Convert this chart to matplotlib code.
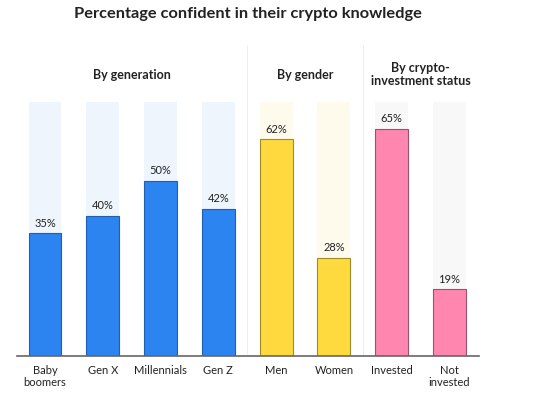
import matplotlib
matplotlib.use("Agg")
import matplotlib.pyplot as plt

categories = ["Baby\nboomers", "Gen X", "Millennials", "Gen Z", "Men", "Women", "Invested", "Not\ninvested"]
values = [35, 40, 50, 42, 62, 28, 65, 19]
background = [72.5] * 8
bar_colors = ["#2C84F0"] * 4 + ["#FFDA3E"] * 2 + ["#FF86AE"] * 2
edge_colors = ["#1F5FAE"] * 4 + ["#A08A2A"] * 2 + ["#9E5068"] * 2
bg_colors = ["#EFF5FD"] * 4 + ["#FEFBED"] * 2 + ["#F8F8F9"] * 2
groups = ["By generation", "By gender", "By crypto-\ninvestment status"]
group_centers = [1.5, 4.5, 6.5]
separators = [3.5, 5.5]
title = "Percentage confident in their crypto knowledge"

plt.rcParams['font.family'] = ['Lato', 'DejaVu Sans']

W, H = 539, 399
fig = plt.figure(figsize=(W / 100, H / 100), dpi=100)
base_px = 355.5
px_per = 3.49
ytop = 80
ax = fig.add_axes([17 / W, (H - base_px) / H, 462 / W, ytop * px_per / H])
x = list(range(len(categories)))
ax.bar(x, background, width=0.57, color=bg_colors, zorder=1)
ax.bar(x, values, width=0.57, color=bar_colors, edgecolor=edge_colors, linewidth=0.8, zorder=2)
for xi, v in zip(x, values):
    ax.text(xi, v + 1.3, f"{v}%", ha="center", va="bottom", fontsize=8, color="#222222")
for s in separators:
    ax.plot([s, s], [0, 89], color="#EFEFEF", linewidth=0.8, zorder=0, clip_on=False)
for g, c in zip(groups, group_centers):
    ax.text(c, 80.5, g, ha="center", va="center", fontsize=9, fontweight="bold",
            color="#222222", linespacing=1.1, clip_on=False)
ax.set_xlim(-0.484, 7.51)
ax.set_ylim(0, ytop)
ax.set_xticks(x)
ax.set_xticklabels(categories, fontsize=8, color="#222222", linespacing=1.1)
ax.tick_params(axis="x", length=0, pad=7)
ax.set_yticks([])
for sp in ["top", "left", "right"]:
    ax.spines[sp].set_visible(False)
ax.spines["bottom"].set_color("#666666")
ax.spines["bottom"].set_linewidth(1.2)
fig.text(248 / W, 1 - 14 / H, title, ha="center", va="center", fontsize=11.8,
         fontweight="bold", color="#222222")
fig.savefig("out.png", dpi=100, facecolor="white")
